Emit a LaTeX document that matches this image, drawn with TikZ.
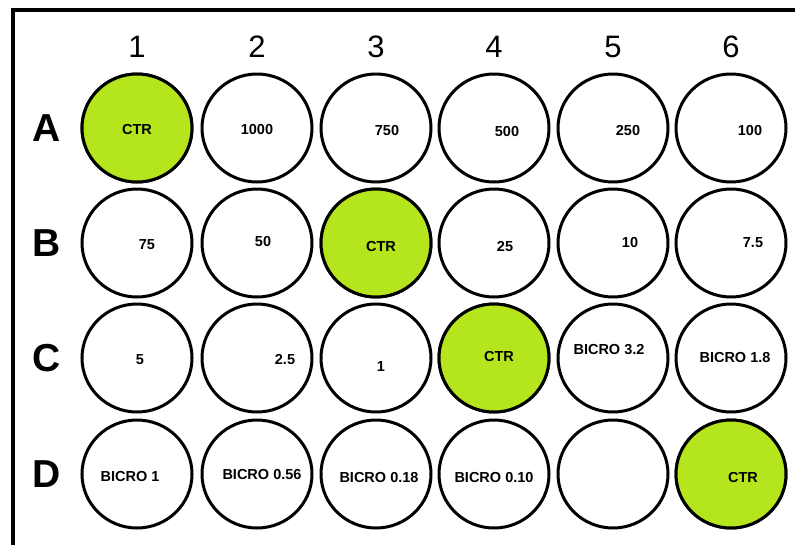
\documentclass[tikz,border=0pt]{standalone}
\usepackage{fontspec}
\setmainfont{Liberation Sans}
\usetikzlibrary{shapes.geometric}

\definecolor{plateGreen}{HTML}{B5E51D}

\begin{document}
\begin{tikzpicture}[
  x=1pt, y=-1pt,
  well/.style={ellipse, draw, line width=3pt, fill=white,
               minimum width=110pt, minimum height=108pt, inner sep=0pt},
  ctr/.style={fill=plateGreen},
  dose/.style={font=\fontsize{14.5}{16}\selectfont\bfseries, inner sep=0pt},
  colnum/.style={font=\fontsize{31}{33}\selectfont},
  rowlet/.style={font=\fontsize{39}{41}\selectfont\bfseries}
]
  \clip (0,0) rectangle (795,544);
  \useasboundingbox (0,0) rectangle (795,544);

  % ---- plate frame ----
  \draw[line width=3.2pt] (13,580) -- (13,10) -- (830,10);

  % ---- column numbers and row letters ----
  \foreach \c/\x in {1/137, 2/257, 3/376, 4/494, 5/613, 6/731}
    \node[colnum] (col\c) at (\x,47) {\c};
  \foreach \r/\y in {A/128, B/243, C/358, D/474}
    \node[rowlet] (row\r) at (47,\y) {\r};

  % ---- wells ----
  \foreach \r/\y in {A/128, B/243, C/358, D/474}
    \foreach \c/\x in {1/137, 2/257, 3/376, 4/494, 5/613, 6/731}
      \node[well] (w\r\c) at (\x,\y) {};
  \foreach \n in {A1, B3, C4, D6}
    \node[well, ctr] (w\n) at (w\n) {};

  % ---- well contents ----
  \foreach \n/\dx/\dy/\t in {
      A1/0/2/CTR, A2/0/2/1000, A3/11/3/750, A4/13/4/500, A5/15/3/250, A6/19/3/100,
      B1/10/2/75, B2/6/-1/50, B3/5/4/CTR, B4/11/4/25, B5/17/0/10, B6/22/0/7.5,
      C1/3/2/5, C2/28/2/2.5, C3/5/9/1, C4/5/-1/CTR, C5/-4/-8/BICRO 3.2, C6/4/0/BICRO 1.8,
      D1/-7/3/BICRO 1, D2/5/1/BICRO 0.56, D3/3/4/BICRO 0.18, D4/0/4/BICRO 0.10, D6/12/4/CTR}
    \node[dose] (t\n) at ([shift={(\dx,\dy)}]w\n) {\t};
\end{tikzpicture}
\end{document}
